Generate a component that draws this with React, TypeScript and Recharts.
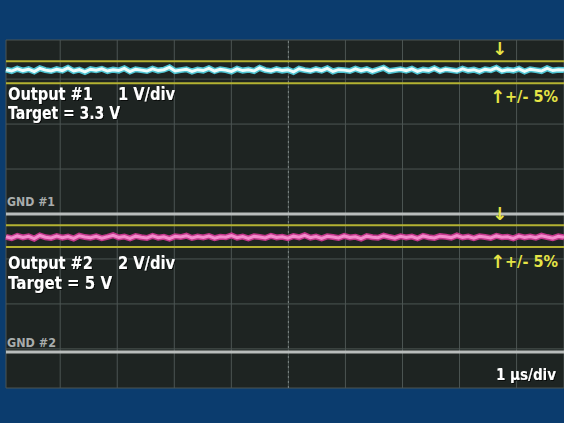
import { LineChart, Line, XAxis, YAxis, CartesianGrid, ReferenceLine } from "recharts";

// horizontal: 1 µs/div, centre of screen = 0
const T_START = -4.95;
const T_STEP = 0.0988;
const TIME_TICKS = [-4, -3, -2, -1, 0, 1, 2, 3, 4];

// channel 1, 1 V/div, GND #1 at centre line
const CH1 = [
    3.21, 3.18, 3.23, 3.19, 3.22, 3.17, 3.24, 3.2, 3.18, 3.22, 3.19, 3.25, 3.18, 3.21, 3.16, 3.22, 3.2, 3.23, 3.18, 3.21,
    3.19, 3.24, 3.17, 3.22, 3.2, 3.18, 3.23, 3.19, 3.21, 3.26, 3.18, 3.2, 3.22, 3.17, 3.21, 3.19, 3.24, 3.18, 3.22, 3.2,
    3.17, 3.23, 3.19, 3.21, 3.18, 3.25, 3.2, 3.18, 3.22, 3.19, 3.21, 3.16, 3.23, 3.2, 3.18, 3.22, 3.19, 3.24, 3.17, 3.21,
    3.2, 3.18, 3.23, 3.19, 3.22, 3.17, 3.21, 3.25, 3.18, 3.2, 3.22, 3.19, 3.23, 3.17, 3.21, 3.19, 3.24, 3.18, 3.22, 3.2,
    3.18, 3.23, 3.19, 3.21, 3.17, 3.22, 3.2, 3.25, 3.18, 3.21, 3.19, 3.23, 3.17, 3.22, 3.2, 3.18, 3.24, 3.19, 3.21, 3.2,
];
const CH1_LIMITS = [3.4, 2.91];

// channel 2, 2 V/div, GND #2 three divisions below centre
const CH2 = [
    5.12, 5.06, 5.16, 5.09, 5.14, 5.04, 5.18, 5.1, 5.07, 5.15, 5.08, 5.13, 5.05, 5.17, 5.11, 5.08, 5.14, 5.06, 5.12, 5.19,
    5.09, 5.13, 5.05, 5.15, 5.1, 5.07, 5.16, 5.08, 5.12, 5.04, 5.14, 5.11, 5.17, 5.07, 5.13, 5.09, 5.15, 5.06, 5.12, 5.1,
    5.18, 5.08, 5.13, 5.05, 5.14, 5.11, 5.07, 5.16, 5.09, 5.12, 5.06, 5.15, 5.1, 5.19, 5.08, 5.13, 5.05, 5.14, 5.11, 5.07,
    5.16, 5.09, 5.12, 5.04, 5.15, 5.1, 5.08, 5.17, 5.11, 5.06, 5.14, 5.09, 5.13, 5.05, 5.16, 5.1, 5.07, 5.15, 5.12, 5.08,
    5.18, 5.09, 5.13, 5.06, 5.14, 5.11, 5.07, 5.16, 5.1, 5.12, 5.05, 5.15, 5.09, 5.13, 5.08, 5.17, 5.11, 5.06, 5.14, 5.1,
];
const CH2_LIMITS = [5.64, 4.67];

const data = CH1.map((v, i) => ({ t: T_START + i * T_STEP, ch1: v, ch2: CH2[i] }));

const FONT = '"DejaVu Sans", sans-serif';
const YELLOW = "#e6e446";
const LIMIT = "#b4b232";

// narrow bold caption, squeezed to the width seen on the screen
function Cap({ x, y, w, children }: { x: number; y: number; w: number; children: string }) {
    return (
        <text x={x} y={y} textLength={w} lengthAdjust="spacingAndGlyphs">
            {children}
        </text>
    );
}

export default function App() {
    return (
        <div style={{ position: "fixed", left: 0, top: 0, width: 564, height: 423, background: "#0b3c6e", overflow: "hidden" }}>
            <LineChart width={564} height={423} data={data} margin={{ top: 40, right: 0, bottom: 35, left: 6 }}>
                <CartesianGrid xAxisId="t" yAxisId="ch1" fill="#1e2422" stroke="#4c5553" strokeWidth={1} />
                <XAxis xAxisId="t" dataKey="t" type="number" domain={[-4.95, 4.83]} ticks={TIME_TICKS} hide />
                <YAxis yAxisId="ch1" type="number" domain={[-3.87, 3.87]} ticks={[-3, -2, -1, 0, 1, 2, 3]} hide />
                <YAxis yAxisId="ch2" type="number" domain={[-1.6, 13.87]} hide />

                <ReferenceLine xAxisId="t" yAxisId="ch1" x={0} stroke="#7e8785" strokeDasharray="2 3" />

                <ReferenceLine xAxisId="t" yAxisId="ch1" y={0} stroke="#b9bdbc" strokeWidth={3} />
                <ReferenceLine xAxisId="t" yAxisId="ch2" y={0} stroke="#b9bdbc" strokeWidth={3} />

                {CH1_LIMITS.map((v) => (
                    <ReferenceLine key={`l1-${v}`} xAxisId="t" yAxisId="ch1" y={v} stroke={LIMIT} strokeWidth={2} />
                ))}
                {CH2_LIMITS.map((v) => (
                    <ReferenceLine key={`l2-${v}`} xAxisId="t" yAxisId="ch2" y={v} stroke={LIMIT} strokeWidth={2} />
                ))}

                <Line xAxisId="t" yAxisId="ch1" dataKey="ch1" stroke="#4fc4d2" strokeWidth={6} dot={false} isAnimationActive={false} />
                <Line xAxisId="t" yAxisId="ch1" dataKey="ch1" stroke="#effefd" strokeWidth={3} dot={false} isAnimationActive={false} />
                <Line xAxisId="t" yAxisId="ch2" dataKey="ch2" stroke="#c4378c" strokeWidth={6} dot={false} isAnimationActive={false} />
                <Line xAxisId="t" yAxisId="ch2" dataKey="ch2" stroke="#f28ccb" strokeWidth={3} dot={false} isAnimationActive={false} />
            </LineChart>

            <svg width={564} height={423} style={{ position: "absolute", left: 0, top: 0, pointerEvents: "none" }}>
                <defs>
                    <filter id="shadow" x="-10%" y="-20%" width="120%" height="140%">
                        <feDropShadow dx={1} dy={1} stdDeviation={0.6} floodColor="#000" floodOpacity={0.7} />
                    </filter>
                </defs>
                <g fontFamily={FONT} fontWeight={700} fill="#ffffff" fontSize={17} filter="url(#shadow)">
                    <Cap x={8} y={100} w={85}>Output #1</Cap>
                    <Cap x={118} y={100} w={57}>1 V/div</Cap>
                    <Cap x={8} y={119} w={112}>Target = 3.3 V</Cap>
                    <Cap x={8} y={269} w={85}>Output #2</Cap>
                    <Cap x={118} y={269} w={57}>2 V/div</Cap>
                    <Cap x={8} y={289} w={104}>Target = 5 V</Cap>
                </g>
                <g fontFamily={FONT} fontWeight={700} fill="#ffffff" fontSize={15} filter="url(#shadow)">
                    <Cap x={496} y={380} w={60}>1 µs/div</Cap>
                </g>
                <g fontFamily={FONT} fontWeight={700} fill="#a9adad" fontSize={13}>
                    <text x={7} y={206} textLength={48} lengthAdjust="spacingAndGlyphs">GND #1</text>
                    <text x={7} y={347} textLength={49} lengthAdjust="spacingAndGlyphs">GND #2</text>
                </g>
                <g fontFamily={FONT} fontWeight={700} fill={YELLOW} fontSize={18}>
                    <text x={492} y={55}>↓</text>
                    <text x={490} y={103}>↑</text>
                    <text x={492} y={220}>↓</text>
                    <text x={490} y={268}>↑</text>
                </g>
                <g fontFamily={FONT} fontWeight={700} fill={YELLOW} fontSize={15}>
                    <text x={505} y={102} textLength={53} lengthAdjust="spacingAndGlyphs">+/- 5%</text>
                    <text x={505} y={267} textLength={53} lengthAdjust="spacingAndGlyphs">+/- 5%</text>
                </g>
            </svg>
        </div>
    );
}
